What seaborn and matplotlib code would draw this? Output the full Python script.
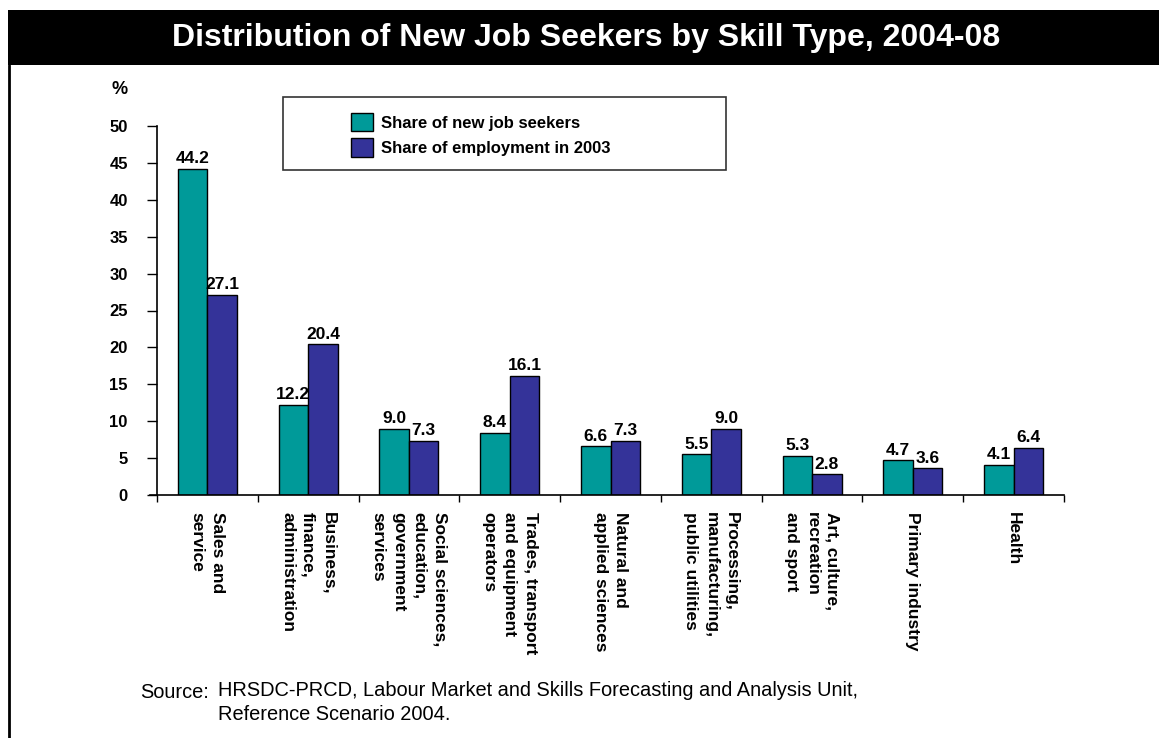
import matplotlib
matplotlib.use("Agg")
import matplotlib.pyplot as plt
from matplotlib.patches import Rectangle
from matplotlib.lines import Line2D
import seaborn as sns
import pandas as pd

categories = [
    "Sales and\nservice",
    "Business,\nfinance,\nadministration",
    "Social sciences,\neducation,\ngovernment\nservices",
    "Trades, transport\nand equipment\noperators",
    "Natural and\napplied sciences",
    "Processing,\nmanufacturing,\npublic utilities",
    "Art, culture,\nrecreation\nand sport",
    "Primary industry",
    "Health",
]
new_job_seekers = [44.2, 12.2, 9.0, 8.4, 6.6, 5.5, 5.3, 4.7, 4.1]
employment_2003 = [27.1, 20.4, 7.3, 16.1, 7.3, 9.0, 2.8, 3.6, 6.4]
series_names = ["Share of new job seekers", "Share of employment in 2003"]
y_ticks = [0, 5, 10, 15, 20, 25, 30, 35, 40, 45, 50]

teal = "#009a99"
navy = "#343399"

df = pd.DataFrame({
    "category": categories * 2,
    "series": [series_names[0]] * len(categories) + [series_names[1]] * len(categories),
    "value": new_job_seekers + employment_2003,
})

sns.set_theme(style="white")
plt.rcParams["font.family"] = ["Liberation Sans", "DejaVu Sans"]
plt.rcParams["text.color"] = "black"
plt.rcParams["xtick.color"] = "black"
plt.rcParams["ytick.color"] = "black"
plt.rcParams["axes.labelcolor"] = "black"

fig = plt.figure(figsize=(11.59, 7.38), dpi=100)
ax = fig.add_axes([157 / 1159, 1 - 495 / 738, (1064 - 157) / 1159, (495 - 126) / 738])

sns.barplot(
    data=df, x="category", y="value", hue="series", order=categories,
    hue_order=series_names, palette=[teal, navy], width=0.585,
    edgecolor="black", linewidth=1.0, saturation=1, ax=ax, legend=False,
)

# value labels above bars
for container in ax.containers:
    ax.bar_label(container, fmt="%.1f", padding=2, fontsize=12.5, fontweight="bold", color="black")

ax.set_ylim(0, 50)
ax.set_xlim(-0.5, len(categories) - 0.5)
ax.set_yticks(y_ticks)
ax.set_yticklabels([str(t) for t in y_ticks], fontsize=12, fontweight="bold", color="black")
ax.set_xlabel("")
ax.set_ylabel("")

# category labels, read top to bottom
ax.set_xticks(range(len(categories)))
ax.set_xticklabels(categories, rotation=-90, ha="center", va="top",
                   multialignment="left", fontsize=12.5, fontweight="bold", color="black",
                   linespacing=1.45)
ax.tick_params(axis="x", which="major", length=0, pad=12)
ax.set_xticks([i - 0.5 for i in range(len(categories) + 1)], minor=True)
ax.tick_params(axis="x", which="minor", length=5, width=1, color="black", direction="out", bottom=True)
ax.tick_params(axis="y", length=7, width=1, color="black", direction="out", left=True, pad=14)

for side in ["top", "right"]:
    ax.spines[side].set_visible(False)
for side in ["left", "bottom"]:
    ax.spines[side].set_color("black")
    ax.spines[side].set_linewidth(1.2)
ax.spines["bottom"].set_bounds(-0.57, len(categories) - 0.5)
ax.grid(False)

fig.text(111 / 1159, 1 - 90 / 738, "%", fontsize=13, fontweight="bold", ha="left", va="center")

# title banner
fig.patches.append(Rectangle((8 / 1159, 1 - 65 / 738), 1 - 8 / 1159, 55 / 738,
                             transform=fig.transFigure, facecolor="black", edgecolor="none"))
fig.text(586 / 1159, 1 - 38 / 738, "Distribution of New Job Seekers by Skill Type, 2004-08",
         color="white", fontsize=23, fontweight="bold", ha="center", va="center")
fig.lines.append(Line2D([9 / 1159, 9 / 1159], [0, 1 - 65 / 738], transform=fig.transFigure,
                        color="black", linewidth=2))

# legend box
fig.patches.append(Rectangle((283 / 1159, 1 - 170 / 738), (726 - 283) / 1159, (170 - 97) / 738,
                             transform=fig.transFigure, facecolor="white", edgecolor="#333333",
                             linewidth=1.2))
handles = [Rectangle((0, 0), 1, 1, facecolor=teal, edgecolor="black", linewidth=1),
           Rectangle((0, 0), 1, 1, facecolor=navy, edgecolor="black", linewidth=1)]
fig.legend(handles, series_names, loc="upper left",
           bbox_to_anchor=(339 / 1159, 1 - 101 / 738), frameon=False,
           prop={"size": 12, "weight": "bold"}, handlelength=1.35, handleheight=1.35,
           handletextpad=0.45, labelspacing=0.4, borderpad=0.2)

# source note
fig.text(209 / 1159, 1 - 692 / 738, "Source:", fontsize=14.4, ha="right", va="center")
fig.text(218 / 1159, 1 - 681 / 738,
         "HRSDC-PRCD, Labour Market and Skills Forecasting and Analysis Unit,\nReference Scenario 2004.",
         fontsize=14.4, ha="left", va="top", linespacing=1.3)

fig.savefig("out.png", dpi=100, facecolor="white")
